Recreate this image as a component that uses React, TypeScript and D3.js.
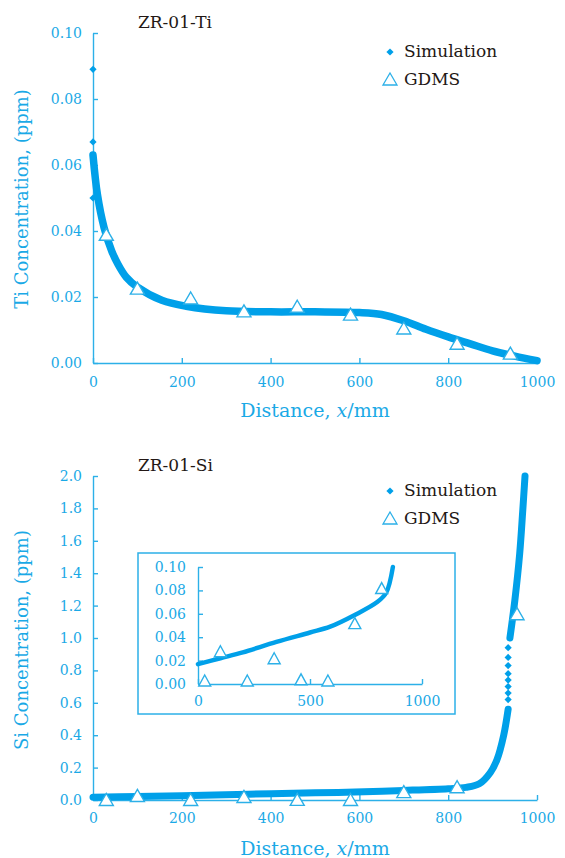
import React, { useEffect, useRef } from 'react';
import * as d3 from 'd3';

// ZR-01-Ti
const tiSimX = [0, 10, 25, 42, 56, 75, 100, 155, 210, 300, 400, 500, 600, 650, 700, 750, 800, 850, 900, 950, 1000];
const tiSimY = [0.063, 0.051, 0.041, 0.034, 0.030, 0.026, 0.023, 0.019, 0.0172, 0.0158, 0.0155, 0.0155, 0.0153, 0.0147, 0.0128, 0.0102, 0.0079, 0.0058, 0.0037, 0.0021, 0.0007];
const tiSimLooseY = [0.089, 0.067, 0.050]; // loose simulation points at x = 0
const tiGdmsX = [30, 100, 220, 340, 460, 580, 700, 820, 940];
const tiGdmsY = [0.0390, 0.0227, 0.0197, 0.0158, 0.0172, 0.0148, 0.0106, 0.0060, 0.0030];
const tiTicksY = [0, 0.02, 0.04, 0.06, 0.08, 0.1];

// ZR-01-Si
const siSimX = [0, 100, 200, 350, 500, 590, 700, 800, 840, 870, 895, 910, 925, 935];
const siSimY = [0.017, 0.022, 0.027, 0.036, 0.044, 0.049, 0.059, 0.070, 0.078, 0.100, 0.17, 0.25, 0.40, 0.56];
const siSimGapY = [0.62, 0.66, 0.70, 0.74, 0.78, 0.83, 0.88, 0.94]; // sparse points at x = 935
const siSimTopX = [939, 950, 961, 968, 973];
const siSimTopY = [1.0, 1.23, 1.52, 1.79, 2.0];
const siGdmsX = [30, 100, 220, 340, 460, 580, 700, 820, 955];
const siGdmsY = [0.003, 0.028, 0.003, 0.022, 0.004, 0.003, 0.052, 0.082, 1.15];
const siTicksY = [0, 0.2, 0.4, 0.6, 0.8, 1.0, 1.2, 1.4, 1.6, 1.8, 2.0];
const insetTicksY = [0, 0.02, 0.04, 0.06, 0.08, 0.1];

const distTicks = [0, 200, 400, 600, 800, 1000];
const insetTicksX = [0, 500, 1000];

const AXIS = '#2cb0e8';
const LABEL = '#1aa9e6';
const LINE = '#00a0e9';
const DARK = '#231815';
const FONT = "'DejaVu Serif', serif";

const zip = (xs: number[], ys: number[]) => xs.map((v, i) => [v, ys[i]] as [number, number]);

const App = () => {
  const ref = useRef<SVGSVGElement>(null);

  useEffect(() => {
    const svg = d3.select(ref.current);
    svg.selectAll('*').remove();

    const tri = (w: number, h: number) => `M0,${-h / 2}L${w / 2},${h / 2}L${-w / 2},${h / 2}Z`;
    const diamond = d3.symbol().type(d3.symbolSquare).size(26);

    const styleAxis = (g: any) => {
      g.select('.domain').attr('stroke', AXIS).attr('stroke-width', 1.4);
      g.selectAll('.tick line').attr('stroke', AXIS).attr('stroke-width', 1.4);
      g.selectAll('.tick text')
        .attr('fill', LABEL)
        .attr('font-family', FONT)
        .attr('font-size', 14);
    };

    const panel = (opts: any) => {
      const { x, y, yTicks, yFmt, xTicks, padY, padX } = opts;
      const gy = svg.append('g')
        .attr('transform', `translate(${x.range()[0]},0)`)
        .call(d3.axisLeft(y).tickValues(yTicks).tickFormat(d3.format(yFmt)).tickSizeInner(-5).tickSizeOuter(0).tickPadding(padY));
      styleAxis(gy);
      const gx = svg.append('g')
        .attr('transform', `translate(0,${y.range()[0]})`)
        .call(d3.axisBottom(x).tickValues(xTicks).tickFormat(d3.format('d')).tickSizeInner(-5).tickSizeOuter(0).tickPadding(padX));
      styleAxis(gx);
    };

    const simLine = (x: any, y: any, pts: [number, number][], w: number) => {
      svg.append('path')
        .attr('d', d3.line<[number, number]>().x(d => x(d[0])).y(d => y(d[1])).curve(d3.curveCatmullRom.alpha(0.5))(pts))
        .attr('fill', 'none')
        .attr('stroke', LINE)
        .attr('stroke-width', w)
        .attr('stroke-linecap', 'round')
        .attr('stroke-linejoin', 'round');
    };

    const dots = (x: any, y: any, pts: [number, number][]) => {
      svg.append('g').selectAll('path')
        .data(pts)
        .join('path')
        .attr('d', diamond)
        .attr('transform', d => `translate(${x(d[0])},${y(d[1])}) rotate(45)`)
        .attr('fill', LINE);
    };

    const triangles = (x: any, y: any, pts: [number, number][], w: number, h: number) => {
      svg.append('g').selectAll('path')
        .data(pts)
        .join('path')
        .attr('d', tri(w, h))
        .attr('transform', d => `translate(${x(d[0])},${y(d[1])})`)
        .attr('fill', 'white')
        .attr('stroke', AXIS)
        .attr('stroke-width', 1.4);
    };

    const texts = (cx: number, cy: number, title: string, yTitle: string, yMid: number, legendY: number, xTitleY: number) => {
      svg.append('text').attr('x', cx).attr('y', cy)
        .attr('font-family', FONT).attr('font-size', 17).attr('fill', DARK).text(title);
      const lg = svg.append('g').attr('font-family', FONT).attr('font-size', 17).attr('fill', DARK);
      lg.append('path').attr('d', diamond).attr('transform', `translate(390,${legendY - 5}) rotate(45)`).attr('fill', LINE);
      lg.append('text').attr('x', 404).attr('y', legendY).text('Simulation');
      lg.append('path').attr('d', tri(14, 12)).attr('transform', `translate(390,${legendY + 22})`)
        .attr('fill', 'white').attr('stroke', AXIS).attr('stroke-width', 1.3);
      lg.append('text').attr('x', 404).attr('y', legendY + 28).text('GDMS');
      const xt = svg.append('text').attr('x', 315).attr('y', xTitleY).attr('text-anchor', 'middle')
        .attr('font-family', FONT).attr('font-size', 19).attr('fill', LABEL);
      xt.append('tspan').text('Distance, ');
      xt.append('tspan').attr('font-style', 'italic').text('x');
      xt.append('tspan').text('/mm');
      svg.append('text').attr('transform', `translate(28,${yMid}) rotate(-90)`).attr('text-anchor', 'middle')
        .attr('font-family', FONT).attr('font-size', 18).attr('fill', LABEL).text(yTitle);
    };

    // ---- Ti panel
    const xTi = d3.scaleLinear().domain([0, 1000]).range([93, 537]);
    const yTi = d3.scaleLinear().domain([0, 0.1]).range([363, 33]);
    panel({ x: xTi, y: yTi, yTicks: tiTicksY, yFmt: '.2f', xTicks: distTicks, padY: 11, padX: 14 });
    simLine(xTi, yTi, zip(tiSimX, tiSimY), 7.5);
    dots(xTi, yTi, tiSimLooseY.map(v => [0, v] as [number, number]));
    triangles(xTi, yTi, zip(tiGdmsX, tiGdmsY), 14, 12);
    texts(138, 28, 'ZR-01-Ti', 'Ti Concentration, (ppm)', 199, 57, 417);

    // ---- Si panel
    const xSi = d3.scaleLinear().domain([0, 1000]).range([93, 537]);
    const ySi = d3.scaleLinear().domain([0, 2]).range([800, 476]);
    panel({ x: xSi, y: ySi, yTicks: siTicksY, yFmt: '.1f', xTicks: distTicks, padY: 11, padX: 13 });
    simLine(xSi, ySi, zip(siSimX, siSimY), 7);
    dots(xSi, ySi, siSimGapY.map(v => [935, v] as [number, number]));
    simLine(xSi, ySi, zip(siSimTopX, siSimTopY), 7);
    triangles(xSi, ySi, zip(siGdmsX, siGdmsY), 14, 12);
    texts(138, 471, 'ZR-01-Si', 'Si Concentration, (ppm)', 640, 496, 855);

    // ---- inset
    svg.append('rect').attr('x', 138).attr('y', 553).attr('width', 317).attr('height', 161)
      .attr('fill', 'white').attr('stroke', AXIS).attr('stroke-width', 1.5);
    const xIn = d3.scaleLinear().domain([0, 1000]).range([198, 422]);
    const yIn = d3.scaleLinear().domain([0, 0.1]).range([684, 567]);
    panel({ x: xIn, y: yIn, yTicks: insetTicksY, yFmt: '.2f', xTicks: insetTicksX, padY: 12, padX: 12 });
    simLine(xIn, yIn, zip(siSimX, siSimY).filter(d => d[1] <= 0.1), 4.5);
    triangles(xIn, yIn, zip(siGdmsX, siGdmsY).filter(d => d[1] <= 0.1), 12, 11);
  }, []);

  return (
    <svg ref={ref} width={565} height={858}
      style={{ position: 'absolute', left: 0, top: 0, background: 'white' }} />
  );
};

export default App;
